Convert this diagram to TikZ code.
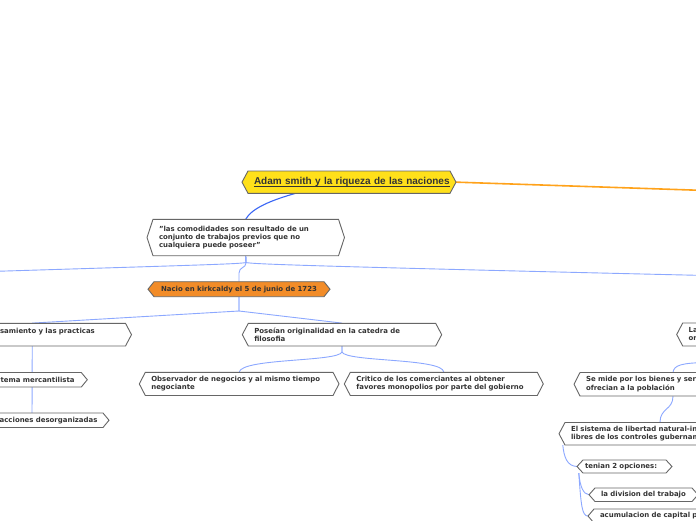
\documentclass[tikz,border=0pt]{standalone}
\usepackage{fontspec}
\setmainfont{DejaVu Sans}
\newfontfamily\titlefont{Liberation Sans}
\usetikzlibrary{calc}
\definecolor{txt}{HTML}{333333}
\definecolor{edge}{HTML}{666666}
\definecolor{ylw}{HTML}{FFE01A}
\definecolor{org}{HTML}{F28C28}
\definecolor{orgline}{HTML}{FFA21A}
\definecolor{bstrong}{HTML}{3A66F5}
\definecolor{blight}{HTML}{8CA8FF}
\newcommand\myul[1]{\leavevmode\setbox0\hbox{#1}\rlap{\rule[-1.6pt]{\wd0}{0.7pt}}\box0}
\pgfdeclarelayer{bg}\pgfsetlayers{bg,main}
\tikzset{
 hexshape/.style={draw=edge, line width=0.9pt, line join=miter},
 hexbox/.style={inner sep=0pt, text=txt, font=\fontsize{6.95}{8.4}\selectfont\bfseries, align=left},
 conn/.style={draw=blight, line width=0.9pt},
 connstrong/.style={draw=bstrong, line width=1.1pt},
 connorg/.style={draw=orgline, line width=1.6pt},
}
\newcommand\hx[8]{%
 \pgfmathsetmacro\hxw{#4-(#2)}%
 \pgfmathsetmacro\hxh{#5-(#3)}%
 \pgfmathsetmacro\hxt{#4-(#2)-24}%
 \pgfmathsetmacro\hxcx{(#2+#4)/2}%
 \pgfmathsetmacro\hxcy{(#3+#5)/2}%
 \path[hexshape, fill=#6] (#2,\hxcy) -- ({#2+6},#3) -- ({#4-6},#3) -- (#4,\hxcy) -- ({#4-6},#5) -- ({#2+6},#5) -- cycle;
 \node[hexbox, minimum width=\hxw pt, minimum height=\hxh pt, text width=\hxt pt, inner xsep=12pt, #7] (#1) at (\hxcx,\hxcy) {#8};
}
\begin{document}
\begin{tikzpicture}[x=1pt,y=-1pt]
\useasboundingbox (0,0) rectangle (696,520);

\hx{main}{242}{171}{456}{193.3}{ylw}{align=center, font=\titlefont\fontsize{10}{12}\selectfont\bfseries}{\myul{Adam smith y la riqueza de las naciones}}
\hx{quote}{147}{219.3}{344.5}{255.7}{white}{}{"las comodidades son resultado de un\\conjunto de trabajos previos que no\\cualquiera puede poseer"}
\hx{nacio}{148}{281.7}{330}{296.7}{org}{align=center}{Nacio en kirkcaldy el 5 de junio de 1723}
\hx{pens}{-67}{323.3}{131.5}{346}{white}{}{\mbox{\hspace*{31pt}El pensamiento y las practicas}\\\mbox{}}
\hx{poseian}{242.3}{323.3}{441.7}{346}{white}{}{Poseían originalidad en la catedra de\\filosofia}
\hx{merc}{-23}{372.5}{87.3}{387}{white}{}{\mbox{Sistema mercantilista}}
\hx{desorg}{-45}{413}{109}{427.5}{white}{}{\mbox{\hspace*{11.5pt}Transacciones desorganizadas}}
\hx{observ}{139.3}{372.3}{339}{395.5}{white}{}{Observador de negocios y al mismo tiempo\\negociante}
\hx{critico}{344.3}{372.3}{543.3}{395.5}{white}{}{Critico de los comerciantes al obtener\\favores monopolios por parte del gobierno}
\hx{lanode}{676.7}{323}{876}{346}{white}{}{La riqueza de una nación\\origina}
\hx{semide}{574}{372.5}{772}{396}{white}{}{Se mide por los bienes y servicios que se\\ofrecian a la población}
\hx{elsis}{559}{422.5}{761}{445}{white}{}{El sistema de libertad natural-individuos\\libres de los controles gubernamentales}
\hx{tenian}{577}{460}{672}{473}{white}{}{\mbox{\hspace*{-4pt}tenian 2 opciones:}}
\hx{division}{589}{488}{698}{501.5}{white}{}{\mbox{la division del trabajo}}
\hx{acumul}{588}{509}{790}{523}{white}{}{acumulacion de capital productivo}

\coordinate (offL) at (-10,271.5);
\coordinate (offR) at (706,275.5);
\coordinate (offO) at (706,190.5);
\coordinate (offS) at (706,362.5);

\begin{pgfonlayer}{bg}
\fill[white] (0,0) rectangle (696,520);
\draw[connorg] (main.east) -- (offO);
\draw[connstrong] ([xshift=-54pt]main.south) .. controls (272,200) and (252,208) .. (quote.north);
\draw[conn] (quote.south) -- (246,262.5) .. controls (240,264) and (200,265) .. (offL);
\draw[conn] (quote.south) -- (246,262.5) .. controls (252,264) and (300,266) .. (offR);
\draw[conn] (quote.south) -- (246,263) .. controls (246,268) and (239,267) .. (239,273) -- (nacio.north);
\draw[conn] (nacio.south) -- (239,311) -- (pens.north);
\draw[conn] (nacio.south) -- (239,311) -- (poseian.north);
\draw[conn] (pens.south) -- (merc.north);
\draw[conn] (merc.south) -- (desorg.north);
\draw[conn] (poseian.south) -- (342,352) .. controls (338,362) and (242,358) .. (observ.north);
\draw[conn] (poseian.south) -- (342,352) .. controls (346,362) and (443,358) .. (critico.north);
\draw[conn] (semide.north) .. controls (674,365) and (682,363) .. (offS);
\draw[conn] (semide.south) .. controls (673,410) and (660,408) .. (elsis.north);
\draw[conn] ([xshift=4pt]elsis.south west) .. controls (564,457) and (567,466) .. (tenian.west);
\draw[conn] ([xshift=2pt]tenian.south west) .. controls (580,486) and (583,494) .. (division.west);
\draw[conn] ([xshift=2pt]tenian.south west) .. controls (581,505) and (582,516) .. (acumul.west);
\end{pgfonlayer}
\end{tikzpicture}
\end{document}
